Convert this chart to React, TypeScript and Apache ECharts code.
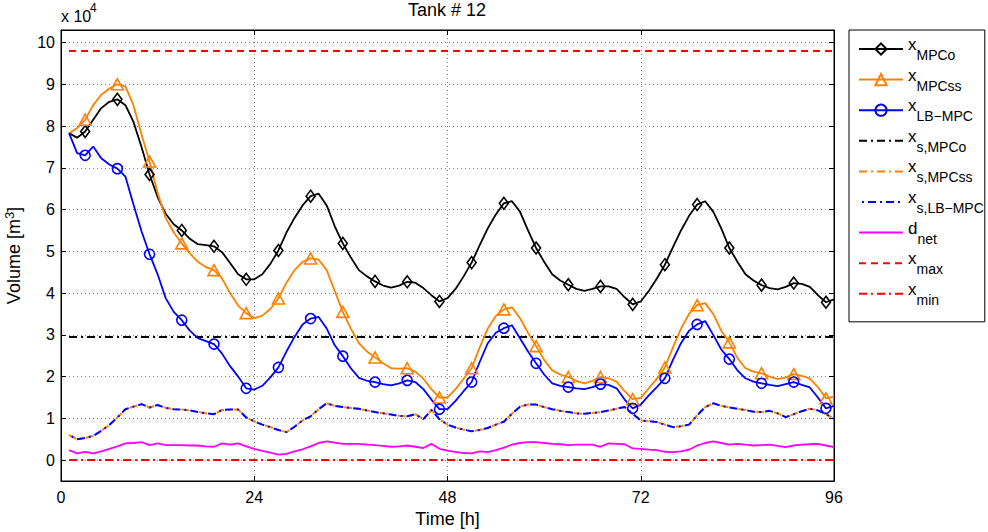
import React, { useEffect, useRef } from "react";
import * as echarts from "echarts";

const FONT = "'Liberation Sans', Arial, Helvetica, sans-serif";

// Hours 1..96 (x values)
const hours: number[] = [
  1, 2, 3, 4, 5, 6, 7, 8, 9, 10, 11, 12, 13, 14, 15, 16, 17, 18, 19, 20, 21, 22, 23, 24,
  25, 26, 27, 28, 29, 30, 31, 32, 33, 34, 35, 36, 37, 38, 39, 40, 41, 42, 43, 44, 45, 46, 47, 48,
  49, 50, 51, 52, 53, 54, 55, 56, 57, 58, 59, 60, 61, 62, 63, 64, 65, 66, 67, 68, 69, 70, 71, 72,
  73, 74, 75, 76, 77, 78, 79, 80, 81, 82, 83, 84, 85, 86, 87, 88, 89, 90, 91, 92, 93, 94, 95, 96,
];

// Volumes in units of 10^4 m^3
const xMPCo: number[] = [
  7.83, 7.72, 7.87, 8.15, 8.43, 8.58, 8.64, 8.5, 8.1, 7.5, 6.84, 6.3, 5.9, 5.65, 5.5, 5.3, 5.17, 5.15, 5.12, 4.98, 4.72, 4.45, 4.33, 4.33,
  4.45, 4.7, 5.02, 5.45, 5.8, 6.1, 6.32, 6.38, 6.1, 5.6, 5.19, 4.85, 4.55, 4.4, 4.28, 4.18, 4.13, 4.18, 4.27, 4.25, 4.12, 3.95, 3.8, 3.88,
  4.1, 4.4, 4.73, 5.15, 5.55, 5.88, 6.15, 6.2, 5.95, 5.5, 5.08, 4.75, 4.45, 4.3, 4.2, 4.1, 4.05, 4.1, 4.16, 4.16, 4.1, 3.9, 3.73, 3.8,
  4.05, 4.35, 4.68, 5.1, 5.5, 5.85, 6.12, 6.2, 5.95, 5.55, 5.08, 4.75, 4.45, 4.3, 4.19, 4.12, 4.09, 4.15, 4.24, 4.22, 4.15, 3.95, 3.78, 3.85,
];

const xMPCss: number[] = [
  7.83, 7.95, 8.15, 8.5, 8.75, 8.9, 9.0, 8.95, 8.5, 7.8, 7.15, 6.4, 5.8, 5.45, 5.19, 4.95, 4.75, 4.62, 4.55, 4.35, 4.0, 3.7, 3.52, 3.4,
  3.46, 3.62, 3.87, 4.25, 4.55, 4.75, 4.83, 4.8, 4.55, 4.05, 3.55, 3.15, 2.8, 2.6, 2.46, 2.32, 2.2, 2.19, 2.2, 2.12, 1.95, 1.7, 1.5, 1.5,
  1.7, 1.95, 2.2, 2.7, 3.15, 3.45, 3.61, 3.66, 3.4, 3.05, 2.73, 2.4, 2.15, 2.05, 1.99, 1.9, 1.84, 1.9, 1.99, 1.96, 1.88, 1.65, 1.46, 1.49,
  1.72, 1.95, 2.22, 2.7, 3.15, 3.5, 3.71, 3.76, 3.5, 3.1, 2.82, 2.45, 2.2, 2.12, 2.08, 2.0, 1.94, 1.98, 2.06, 2.02, 1.95, 1.75, 1.48, 1.52,
];

const xLBMPC: number[] = [
  7.83, 7.35, 7.3, 7.51, 7.23, 7.08, 6.98, 6.79, 6.12, 5.48, 4.93, 4.45, 3.88, 3.55, 3.35, 3.1, 2.92, 2.85, 2.78, 2.55, 2.25, 2.0, 1.72, 1.69,
  1.78, 1.98, 2.22, 2.6, 2.95, 3.25, 3.39, 3.43, 3.15, 2.75, 2.49, 2.2, 1.97, 1.9, 1.87, 1.82, 1.79, 1.84, 1.91, 1.87, 1.7, 1.45, 1.22, 1.22,
  1.42, 1.65, 1.87, 2.35, 2.8, 3.05, 3.16, 3.23, 2.92, 2.6, 2.32, 2.05, 1.84, 1.78, 1.75, 1.72, 1.7, 1.75, 1.82, 1.8, 1.72, 1.45, 1.24, 1.33,
  1.55, 1.75, 1.96, 2.4, 2.8, 3.1, 3.25, 3.33, 3.0, 2.65, 2.42, 2.15, 1.96, 1.88, 1.84, 1.8, 1.77, 1.82, 1.87, 1.8, 1.74, 1.5, 1.24, 1.3,
];

const xsMPCss: number[] = [
  0.6, 0.5, 0.53, 0.58, 0.7, 0.84, 1.02, 1.22, 1.28, 1.34, 1.26, 1.32, 1.25, 1.22, 1.21, 1.19, 1.15, 1.12, 1.1, 1.2, 1.21, 1.21, 1.02, 0.93,
  0.85, 0.79, 0.72, 0.67, 0.8, 0.95, 1.05, 1.22, 1.36, 1.3, 1.27, 1.25, 1.23, 1.19, 1.15, 1.12, 1.09, 1.06, 1.05, 1.1, 0.98, 1.2, 0.98, 0.85,
  0.78, 0.73, 0.69, 0.72, 0.77, 0.85, 0.92, 1.11, 1.28, 1.33, 1.33, 1.27, 1.22, 1.18, 1.15, 1.12, 1.11, 1.13, 1.15, 1.19, 1.23, 1.27, 1.11, 0.95,
  0.93, 0.91, 0.85, 0.79, 0.81, 0.85, 1.07, 1.27, 1.36, 1.3, 1.26, 1.23, 1.2, 1.16, 1.15, 1.18, 1.12, 1.03, 1.1, 1.17, 1.23, 1.19, 1.1, 0.99,
];

const xsLBMPC: number[] = [
  0.6, 0.5, 0.53, 0.58, 0.7, 0.84, 1.02, 1.22, 1.28, 1.34, 1.26, 1.32, 1.25, 1.22, 1.21, 1.19, 1.15, 1.12, 1.1, 1.2, 1.21, 1.21, 1.02, 0.93,
  0.85, 0.79, 0.72, 0.67, 0.8, 0.95, 1.05, 1.22, 1.36, 1.3, 1.27, 1.25, 1.23, 1.19, 1.15, 1.12, 1.09, 1.06, 1.05, 1.1, 0.98, 1.2, 0.98, 0.85,
  0.78, 0.73, 0.69, 0.72, 0.77, 0.85, 0.92, 1.11, 1.28, 1.33, 1.33, 1.27, 1.22, 1.18, 1.15, 1.12, 1.11, 1.13, 1.15, 1.19, 1.23, 1.27, 1.11, 0.95,
  0.93, 0.91, 0.85, 0.79, 0.81, 0.85, 1.07, 1.27, 1.36, 1.3, 1.26, 1.23, 1.2, 1.16, 1.15, 1.18, 1.12, 1.03, 1.1, 1.17, 1.23, 1.19, 1.1, 0.99,
];

const dNet: number[] = [
  0.24, 0.16, 0.2, 0.16, 0.21, 0.27, 0.33, 0.4, 0.41, 0.43, 0.36, 0.4, 0.36, 0.36, 0.36, 0.35, 0.35, 0.33, 0.32, 0.4, 0.37, 0.4, 0.33, 0.27,
  0.22, 0.18, 0.13, 0.15, 0.21, 0.26, 0.33, 0.41, 0.45, 0.42, 0.39, 0.39, 0.39, 0.37, 0.36, 0.34, 0.32, 0.33, 0.35, 0.32, 0.29, 0.39, 0.27, 0.23,
  0.2, 0.17, 0.16, 0.21, 0.19, 0.24, 0.3, 0.37, 0.41, 0.43, 0.43, 0.41, 0.39, 0.38, 0.36, 0.37, 0.37, 0.37, 0.32, 0.4, 0.39, 0.38, 0.28, 0.27,
  0.25, 0.24, 0.2, 0.19, 0.21, 0.25, 0.35, 0.41, 0.45, 0.41, 0.37, 0.39, 0.37, 0.35, 0.36, 0.37, 0.34, 0.31, 0.35, 0.37, 0.38, 0.39, 0.35, 0.31,
];

const xsMPCoLevel = 2.95;
const xMaxLevel = 9.8;
const xMinLevel = 0;

const xTicks = { min: 0, max: 96, interval: 24 };
const yRange = { min: -0.5, max: 10.3 };

const legendLabels: Record<string, [string, string]> = {
  xMPCo: ["x", "MPCo"],
  xMPCss: ["x", "MPCss"],
  xLBMPC: ["x", "LB\u2212MPC"],
  xsMPCo: ["x", "s,MPCo"],
  xsMPCss: ["x", "s,MPCss"],
  xsLBMPC: ["x", "s,LB\u2212MPC"],
  dnet: ["d", "net"],
  xmax: ["x", "max"],
  xmin: ["x", "min"],
};

const BLACK = "#000000";
const ORANGE = "#FF8000";
const BLUE = "#0000FF";
const MAGENTA = "#FF00FF";
const RED = "#FF0000";
const DASHDOT = [8, 4, 2, 4];

function markerData(vals: number[]) {
  return hours.map((h, i) => (i % 4 === 2 ? [h, vals[i]] : { value: [h, vals[i]], symbol: "none" }));
}
function plainData(vals: number[]) {
  return hours.map((h, i) => [h, vals[i]]);
}
function levelData(v: number) {
  return [
    [hours[0], v],
    [hours[hours.length - 1], v],
  ];
}

export default function App() {
  const ref = useRef<HTMLDivElement>(null);
  useEffect(() => {
    if (!ref.current) return;
    const chart = echarts.init(ref.current, null, { renderer: "svg" });

    const markerSeries = (name: string, vals: number[], color: string, symbol: string, size: any) => ({
      name,
      type: "line",
      data: markerData(vals),
      symbol,
      symbolSize: size,
      showSymbol: true,
      lineStyle: { color, width: 1.8 },
      itemStyle: { color: "rgba(255,255,255,0)", borderColor: color, borderWidth: 1.6 },
      emphasis: { disabled: true },
      z: 3,
    });
    const plainSeries = (name: string, data: any[], color: string, type: any, width: number, dashOffset = 0) => ({
      name,
      type: "line",
      data,
      symbol: "none",
      lineStyle: { color, width, type, dashOffset },
      itemStyle: { color, opacity: 0 },
      emphasis: { disabled: true },
      z: 2,
    });

    const axisCommon = {
      axisLine: { show: true, onZero: false, lineStyle: { color: BLACK, width: 1 } },
      axisTick: { show: true, inside: true, length: 5, lineStyle: { color: BLACK } },
    };

    chart.setOption({
      animation: false,
      backgroundColor: "#ffffff",
      textStyle: { fontFamily: FONT },
      title: {
        text: "Tank # 12",
        left: 408,
        top: 1,
        padding: 0,
        textStyle: { fontFamily: FONT, fontSize: 18, fontWeight: "normal", color: BLACK },
      },
      grid: {
        left: 61,
        right: 154,
        top: 30,
        bottom: 51,
        show: true,
        borderColor: BLACK,
        borderWidth: 1,
        outerBoundsMode: "none",
      },
      legend: {
        orient: "vertical",
        left: 849,
        top: 30,
        itemWidth: 44,
        itemHeight: 14,
        itemGap: 4.6,
        padding: [6, 1, 15, 9],
        borderColor: BLACK,
        borderWidth: 1,
        backgroundColor: "#ffffff",
        selectedMode: false,
        data: Object.keys(legendLabels),
        formatter: (name: string) => {
          const [m, s] = legendLabels[name];
          return `{m|${m}}{s|${s}}`;
        },
        textStyle: {
          fontFamily: FONT,
          color: BLACK,
          rich: {
            m: { fontFamily: FONT, fontSize: 17, color: BLACK, verticalAlign: "top" },
            s: { fontFamily: FONT, fontSize: 14, color: BLACK, padding: [12, 0, 0, 0], verticalAlign: "bottom" },
          },
        },
      },
      xAxis: [
        {
          type: "value",
          ...xTicks,
          name: "Time [h]",
          nameLocation: "middle",
          nameGap: 26,
          nameTextStyle: { fontFamily: FONT, fontSize: 18, color: BLACK },
          ...axisCommon,
          axisLabel: { color: BLACK, fontFamily: FONT, fontSize: 16, margin: 8 },
          splitLine: { show: true, lineStyle: { color: "#808080", width: 1, type: [1, 3] } },
        },
        {
          type: "value",
          position: "top",
          ...xTicks,
          ...axisCommon,
          axisLabel: { show: false },
          splitLine: { show: false },
        },
      ],
      yAxis: [
        {
          type: "value",
          ...yRange,
          minInterval: 1,
          maxInterval: 1,
          splitNumber: 10,
          name: "{a|Volume [m}{s|3}{a|]}",
          nameLocation: "middle",
          nameRotate: 90,
          nameGap: 36,
          nameTextStyle: {
            fontFamily: FONT,
            fontSize: 18,
            color: BLACK,
            rich: {
              a: { fontFamily: FONT, fontSize: 18, color: BLACK, lineHeight: 22 },
              s: { fontFamily: FONT, fontSize: 13, color: BLACK, lineHeight: 14, verticalAlign: "top" },
            },
          },
          ...axisCommon,
          axisLabel: {
            color: BLACK,
            fontFamily: FONT,
            fontSize: 16,
            margin: 6,
            formatter: (v: number) => (Math.abs(v - Math.round(v)) < 1e-6 ? String(Math.round(v)) : ""),
          },
          splitLine: { show: true, lineStyle: { color: "#808080", width: 1, type: [1, 3] } },
        },
        {
          type: "value",
          position: "right",
          ...yRange,
          minInterval: 1,
          maxInterval: 1,
          splitNumber: 10,
          ...axisCommon,
          axisLabel: { show: false },
          splitLine: { show: false },
        },
      ],
      graphic: [
        {
          type: "text",
          x: 61,
          y: 8,
          style: { text: "x 10", fontFamily: FONT, fontSize: 16, fill: BLACK },
        },
        {
          type: "text",
          x: 90,
          y: 2,
          style: { text: "4", fontFamily: FONT, fontSize: 12, fill: BLACK },
        },
      ],
      series: [
        markerSeries("xMPCo", xMPCo, BLACK, "diamond", [9, 12]),
        markerSeries("xMPCss", xMPCss, ORANGE, "triangle", [12, 11]),
        markerSeries("xLBMPC", xLBMPC, BLUE, "circle", 10),
        plainSeries("xsMPCo", levelData(xsMPCoLevel), BLACK, DASHDOT, 2),
        plainSeries("xsMPCss", plainData(xsMPCss), ORANGE, DASHDOT, 2),
        plainSeries("xsLBMPC", plainData(xsLBMPC), BLUE, DASHDOT, 2, 9),
        plainSeries("dnet", plainData(dNet), MAGENTA, "solid", 1.8),
        plainSeries("xmax", levelData(xMaxLevel), RED, [7, 5], 2),
        plainSeries("xmin", levelData(xMinLevel), RED, DASHDOT, 2),
      ],
    } as any);

    return () => chart.dispose();
  }, []);

  return <div ref={ref} style={{ position: "absolute", left: 0, top: 0, width: 988, height: 532 }} />;
}
